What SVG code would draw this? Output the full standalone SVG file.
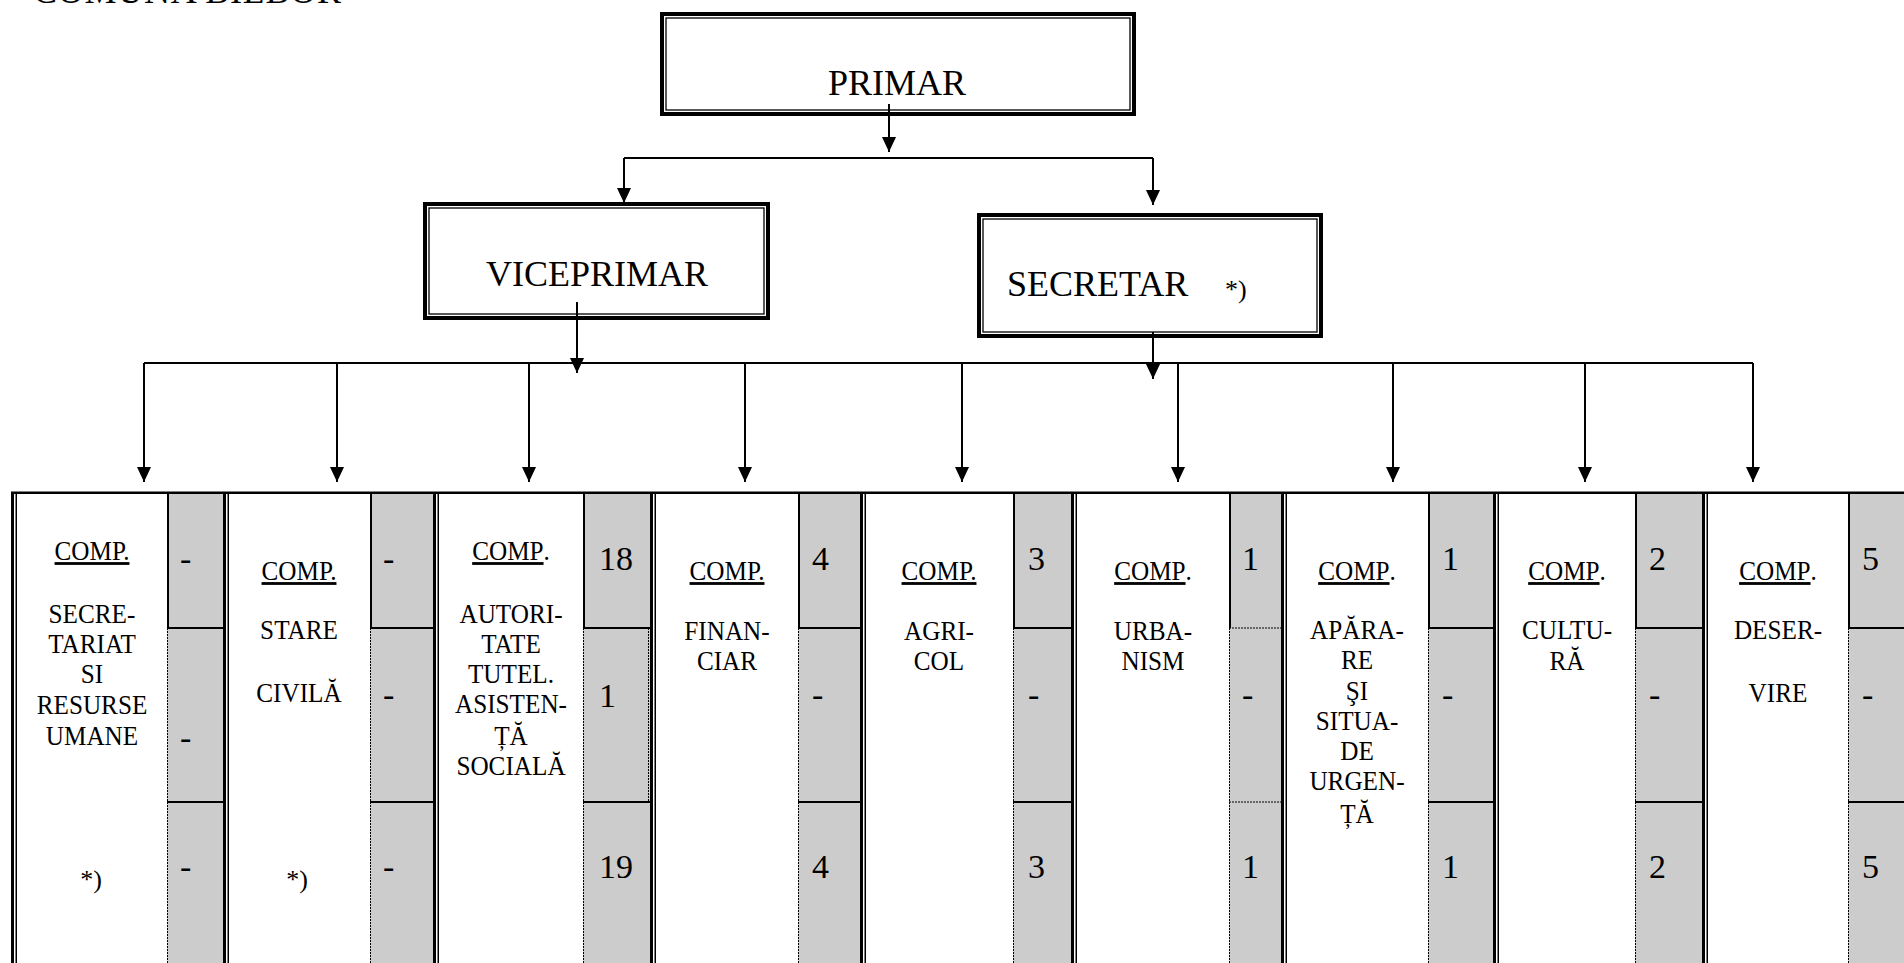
<svg xmlns="http://www.w3.org/2000/svg" width="1904" height="963" viewBox="0 0 1904 963">
<defs>
<style>
.t{font-family:"Liberation Serif","Times New Roman",serif;fill:#000}
.big{font-size:36px}
.lbl{font-size:28px;text-anchor:middle}
.ast{font-size:26px;text-anchor:middle}
.num{font-size:34px}
.u{text-decoration:underline}
.bo{fill:none;stroke:#000;stroke-width:4}
.bi{fill:none;stroke:#000;stroke-width:1.3}
.conn{fill:none;stroke:#000;stroke-width:2}
.grey{fill:#cccccc}
.sol{stroke:#000;stroke-width:2}
.dot{stroke:#000;stroke-width:1;stroke-dasharray:2 1}
.sep{fill:#000}
</style>
<marker id="arr" markerUnits="userSpaceOnUse" markerWidth="15" markerHeight="14" viewBox="0 0 15 14" refX="15" refY="7" orient="auto">
<path d="M0,0 L15,7 L0,14 z" fill="#000"/>
</marker>
</defs>
<rect width="1904" height="963" fill="#fff"/>
<text class="t" x="33" y="3" font-size="36" textLength="308">COMUNA BILBOR</text>

<g id="primar">
<rect class="bo" x="662" y="14" width="472" height="100"/>
<rect class="bi" x="666" y="18" width="464" height="92"/>
<text class="t big" x="897" y="95" text-anchor="middle">PRIMAR</text>
</g>
<g id="viceprimar">
<rect class="bo" x="425" y="204" width="343" height="114"/>
<rect class="bi" x="429" y="208" width="335" height="106"/>
<text class="t big" x="597" y="286" text-anchor="middle">VICEPRIMAR</text>
</g>
<g id="secretar">
<rect class="bo" x="979" y="215" width="342" height="121"/>
<rect class="bi" x="983" y="219" width="334" height="113"/>
<text class="t big" x="1007" y="296">SECRETAR</text>
<text class="t" x="1225" y="298" font-size="26">*)</text>
</g>

<g id="connectors">
<path class="conn" d="M889,104 V152" marker-end="url(#arr)"/>
<path class="conn" d="M624,158 H1153"/>
<path class="conn" d="M624,158 V203" marker-end="url(#arr)"/>
<path class="conn" d="M1153,158 V205" marker-end="url(#arr)"/>
<path class="conn" d="M577,302 V373" marker-end="url(#arr)"/>
<path class="conn" d="M1153,332 V379" marker-end="url(#arr)"/>
<path class="conn" d="M144,363 H1753"/>
<path class="conn" d="M144,363 V482" marker-end="url(#arr)"/>
<path class="conn" d="M337,363 V482" marker-end="url(#arr)"/>
<path class="conn" d="M529,363 V482" marker-end="url(#arr)"/>
<path class="conn" d="M745,363 V482" marker-end="url(#arr)"/>
<path class="conn" d="M962,363 V482" marker-end="url(#arr)"/>
<path class="conn" d="M1178,363 V482" marker-end="url(#arr)"/>
<path class="conn" d="M1393,363 V482" marker-end="url(#arr)"/>
<path class="conn" d="M1585,363 V482" marker-end="url(#arr)"/>
<path class="conn" d="M1753,363 V482" marker-end="url(#arr)"/>
</g>

<g id="table-frame">
<rect x="11" y="491.5" width="1893" height="2.5" fill="#000"/>
<rect class="sep" x="11" y="493" width="3" height="470"/>
<rect class="sep" x="15.5" y="493" width="1.5" height="470"/>
</g>

<g id="grey-cells">
<rect class="grey" x="167" y="494" width="56" height="469"/>
<rect class="grey" x="370" y="494" width="63" height="469"/>
<rect class="grey" x="583" y="494" width="67" height="469"/>
<rect class="grey" x="798" y="494" width="62" height="469"/>
<rect class="grey" x="1013" y="494" width="58" height="469"/>
<rect class="grey" x="1229" y="494" width="52" height="469"/>
<rect class="grey" x="1428" y="494" width="65" height="469"/>
<rect class="grey" x="1635" y="494" width="67" height="469"/>
<rect class="grey" x="1848" y="494" width="56" height="469"/>
<path class="sol" d="M168,494 V628 M371,494 V628 M584,494 V628 M799,494 V628 M1014,494 V628 M1230,494 V628 M1429,494 V628 M1636,494 V628 M1849,494 V628"/>
<path class="dot" d="M167.5,628 V963 M370.5,628 V963 M583.5,628 V963 M798.5,628 V963 M1013.5,628 V963 M1229.5,628 V963 M1428.5,628 V963 M1635.5,628 V963 M1848.5,628 V963 M648.5,628 V802"/>
<path class="sol" d="M167,628 H223 M167,802 H223 M370,628 H433 M370,802 H433 M583,628 H650 M583,802 H650 M798,628 H860 M798,802 H860 M1013,628 H1071 M1013,802 H1071 M1428,628 H1493 M1428,802 H1493 M1635,628 H1702 M1635,802 H1702 M1848,628 H1904 M1848,802 H1904"/>
<path class="dot" d="M1229,628 H1281 M1229,802 H1281"/>
</g>

<g id="separators">
<rect class="sep" x="223" y="493" width="3" height="470"/><rect class="sep" x="227.5" y="493" width="1.5" height="470"/>
<rect class="sep" x="433" y="493" width="3" height="470"/><rect class="sep" x="437.5" y="493" width="1.5" height="470"/>
<rect class="sep" x="650" y="493" width="3" height="470"/><rect class="sep" x="654.5" y="493" width="1.5" height="470"/>
<rect class="sep" x="860" y="493" width="3" height="470"/><rect class="sep" x="864.5" y="493" width="1.5" height="470"/>
<rect class="sep" x="1071" y="493" width="3" height="470"/><rect class="sep" x="1075.5" y="493" width="1.5" height="470"/>
<rect class="sep" x="1281" y="493" width="3" height="470"/><rect class="sep" x="1285.5" y="493" width="1.5" height="470"/>
<rect class="sep" x="1493" y="493" width="3" height="470"/><rect class="sep" x="1497.5" y="493" width="1.5" height="470"/>
<rect class="sep" x="1702" y="493" width="3" height="470"/><rect class="sep" x="1706.5" y="493" width="1.5" height="470"/>
</g>

<g id="comp-secretariat" class="t">
<g transform="translate(92,0) scale(0.9,1)">
<text class="lbl" x="0" y="560"><tspan class="u">COMP.</tspan></text>
<text class="lbl" x="0" y="623">SECRE-</text>
<text class="lbl" x="0" y="653">TARIAT</text>
<text class="lbl" x="0" y="683">SI</text>
<text class="lbl" x="0" y="714">RESURSE</text>
<text class="lbl" x="0" y="745">UMANE</text>
</g>
<text class="ast" x="91" y="888">*)</text>
<text class="num" x="180" y="570">-</text>
<text class="num" x="180" y="749">-</text>
<text class="num" x="180" y="878">-</text>
</g>

<g id="comp-stare-civila" class="t">
<g transform="translate(299,0) scale(0.9,1)">
<text class="lbl" x="0" y="580"><tspan class="u">COMP.</tspan></text>
<text class="lbl" x="0" y="639">STARE</text>
<text class="lbl" x="0" y="702">CIVILĂ</text>
</g>
<text class="ast" x="297" y="888">*)</text>
<text class="num" x="383" y="570">-</text>
<text class="num" x="383" y="706">-</text>
<text class="num" x="383" y="878">-</text>
</g>

<g id="comp-autoritate" class="t">
<g transform="translate(511,0) scale(0.9,1)">
<text class="lbl" x="0" y="560"><tspan class="u">COMP</tspan>.</text>
<text class="lbl" x="0" y="623">AUTORI-</text>
<text class="lbl" x="0" y="653">TATE</text>
<text class="lbl" x="0" y="683">TUTEL.</text>
<text class="lbl" x="0" y="713">ASISTEN-</text>
<text class="lbl" x="0" y="745">ȚĂ</text>
<text class="lbl" x="0" y="775">SOCIALĂ</text>
</g>
<text class="num" x="599" y="570">18</text>
<text class="num" x="599" y="707">1</text>
<text class="num" x="599" y="878">19</text>
</g>

<g id="comp-financiar" class="t">
<g transform="translate(727,0) scale(0.9,1)">
<text class="lbl" x="0" y="580"><tspan class="u">COMP.</tspan></text>
<text class="lbl" x="0" y="640">FINAN-</text>
<text class="lbl" x="0" y="670">CIAR</text>
</g>
<text class="num" x="812" y="570">4</text>
<text class="num" x="812" y="706">-</text>
<text class="num" x="812" y="878">4</text>
</g>

<g id="comp-agricol" class="t">
<g transform="translate(939,0) scale(0.9,1)">
<text class="lbl" x="0" y="580"><tspan class="u">COMP.</tspan></text>
<text class="lbl" x="0" y="640">AGRI-</text>
<text class="lbl" x="0" y="670">COL</text>
</g>
<text class="num" x="1028" y="570">3</text>
<text class="num" x="1028" y="706">-</text>
<text class="num" x="1028" y="878">3</text>
</g>

<g id="comp-urbanism" class="t">
<g transform="translate(1153,0) scale(0.9,1)">
<text class="lbl" x="0" y="580"><tspan class="u">COMP</tspan>.</text>
<text class="lbl" x="0" y="640">URBA-</text>
<text class="lbl" x="0" y="670">NISM</text>
</g>
<text class="num" x="1242" y="570">1</text>
<text class="num" x="1242" y="706">-</text>
<text class="num" x="1242" y="878">1</text>
</g>

<g id="comp-aparare" class="t">
<g transform="translate(1357,0) scale(0.9,1)">
<text class="lbl" x="0" y="580"><tspan class="u">COMP</tspan>.</text>
<text class="lbl" x="0" y="639">APĂRA-</text>
<text class="lbl" x="0" y="669">RE</text>
<text class="lbl" x="0" y="700">ŞI</text>
<text class="lbl" x="0" y="730">SITUA-</text>
<text class="lbl" x="0" y="760">DE</text>
<text class="lbl" x="0" y="790">URGEN-</text>
<text class="lbl" x="0" y="823">ȚĂ</text>
</g>
<text class="num" x="1442" y="570">1</text>
<text class="num" x="1442" y="706">-</text>
<text class="num" x="1442" y="878">1</text>
</g>

<g id="comp-cultura" class="t">
<g transform="translate(1567,0) scale(0.9,1)">
<text class="lbl" x="0" y="580"><tspan class="u">COMP</tspan>.</text>
<text class="lbl" x="0" y="639">CULTU-</text>
<text class="lbl" x="0" y="670">RĂ</text>
</g>
<text class="num" x="1649" y="570">2</text>
<text class="num" x="1649" y="706">-</text>
<text class="num" x="1649" y="878">2</text>
</g>

<g id="comp-deservire" class="t">
<g transform="translate(1778,0) scale(0.9,1)">
<text class="lbl" x="0" y="580"><tspan class="u">COMP</tspan>.</text>
<text class="lbl" x="0" y="639">DESER-</text>
<text class="lbl" x="0" y="702">VIRE</text>
</g>
<text class="num" x="1862" y="570">5</text>
<text class="num" x="1862" y="706">-</text>
<text class="num" x="1862" y="878">5</text>
</g>
</svg>
